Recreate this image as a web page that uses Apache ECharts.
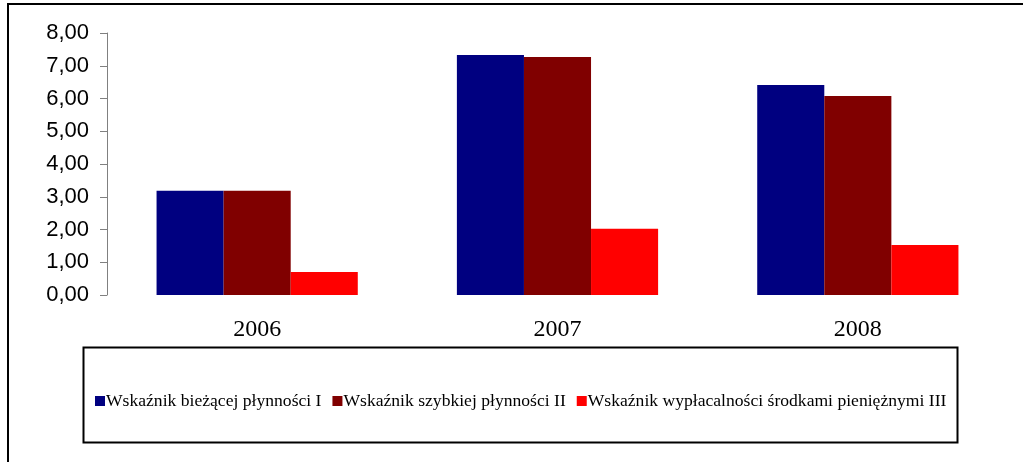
<!DOCTYPE html>
<html>
<head>
<meta charset="utf-8">
<script src="https://cdn.jsdelivr.net/npm/echarts@6/dist/echarts.min.js"></script>
<style>
  html, body { margin: 0; padding: 0; background: #fff; }
  #chart { width: 1023px; height: 462px; }
</style>
</head>
<body>
<div id="chart"></div>
<script>
// dane
const years = ["2006", "2007", "2008"];
const seriesNames = [
  "Wskaźnik bieżącej płynności I",
  "Wskaźnik szybkiej płynności II",
  "Wskaźnik wypłacalności środkami pieniężnymi III"
];
const biezacej = [3.18, 7.33, 6.41];
const szybkiej = [3.18, 7.27, 6.08];
const wyplacalnosci = [0.70, 2.02, 1.53];
const colors = ["#000080", "#800000", "#ff0000"];

const values = [biezacej, szybkiej, wyplacalnosci];

let myChart = echarts.init(document.getElementById("chart"));

let option = {
  animation: false,
  color: colors,
  grid: {
    left: 107,
    right: 15,
    top: 33,
    bottom: 167,
    containLabel: false,
  },
  legend: {
    left: 90,
    top: 387,
    itemWidth: 10,
    itemHeight: 10,
    itemGap: 11,
    icon: "rect",
    textStyle: {
      fontFamily: "Liberation Serif",
      fontSize: 17.6,
      color: "#000",
      padding: [0, 0, 0, -4],
    },
    data: seriesNames,
  },
  graphic: [
    {
      // ramka wykresu
      type: "rect",
      shape: { x: 8, y: 4, width: 1040, height: 480 },
      style: { fill: "none", stroke: "#000", lineWidth: 2 },
      silent: true,
    },
    {
      // ramka legendy
      type: "rect",
      shape: { x: 83.5, y: 347.5, width: 874, height: 95 },
      style: { fill: "none", stroke: "#000", lineWidth: 2 },
      silent: true,
    },
  ],
  xAxis: {
    type: "category",
    data: years,
    axisLine: { show: false },
    axisTick: { show: false },
    axisLabel: {
      fontFamily: "Liberation Serif",
      fontSize: 24,
      color: "#000",
      margin: 23,
    },
  },
  yAxis: {
    type: "value",
    min: 0,
    max: 8,
    interval: 1,
    axisLine: { show: true, lineStyle: { color: "#808080", width: 1 } },
    axisTick: { show: true, length: 7, lineStyle: { color: "#808080" } },
    splitLine: { show: false },
    axisLabel: {
      fontFamily: "Liberation Sans",
      fontSize: 22,
      color: "#000",
      margin: 18,
      formatter: (v) => v.toFixed(2).replace(".", ","),
    },
  },
  series: seriesNames.map((name, i) => ({
    name: name,
    type: "bar",
    data: values[i],
    barGap: "0%",
    barCategoryGap: "33%",
  })),
};

myChart.setOption(option);
</script>
</body>
</html>
